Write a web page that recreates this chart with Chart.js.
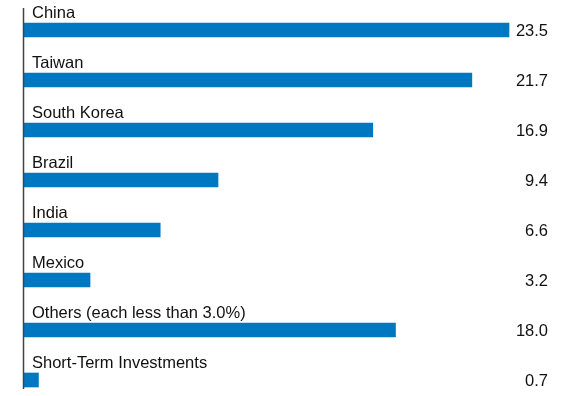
<!DOCTYPE html>
<html>
<head>
<meta charset="utf-8">
<script src="https://cdn.jsdelivr.net/npm/chart.js@4/dist/chart.umd.min.js"></script>
<style>
  html, body { margin: 0; padding: 0; background: #fff; }
  #wrap { width: 573px; height: 396px; position: relative; }
</style>
</head>
<body>
<div id="wrap"><canvas id="countryChart"></canvas></div>
<script>
// values (percent of net assets)
const countries = ['China', 'Taiwan', 'South Korea', 'Brazil', 'India', 'Mexico',
  'Others (each less than 3.0%)', 'Short-Term Investments'];
const weights = [23.5, 21.7, 16.9, 9.4, 6.6, 3.2, 18.0, 0.7];

const barColor = '#0078c1';
const textFont = '16.5px "Liberation Sans", Arial, sans-serif';

// draws the category name above each bar and the value at the right edge
const labelPlugin = {
  id: 'rowLabels',
  afterDatasetsDraw(chart) {
    const ctx = chart.ctx;
    const meta = chart.getDatasetMeta(0);
    const area = chart.chartArea;
    ctx.save();
    ctx.font = textFont;
    ctx.fillStyle = '#111';
    meta.data.forEach((bar, i) => {
      ctx.textAlign = 'left';
      ctx.textBaseline = 'alphabetic';
      ctx.fillText(countries[i], area.left + 8, bar.y - 12);
      ctx.textAlign = 'right';
      ctx.textBaseline = 'middle';
      ctx.fillText(weights[i].toFixed(1), 548, bar.y + 1);
    });
    // vertical axis line
    ctx.strokeStyle = '#444';
    ctx.lineWidth = 1.5;
    ctx.beginPath();
    ctx.moveTo(area.left - 0.5, 8);
    ctx.lineTo(area.left - 0.5, 389);
    ctx.stroke();
    ctx.restore();
  }
};

new Chart(document.getElementById('countryChart'), {
  type: 'bar',
  data: {
    labels: countries,
    datasets: [{
      data: weights,
      backgroundColor: barColor,
      barThickness: 14,
      borderWidth: 0,
      clip: false
    }]
  },
  options: {
    indexAxis: 'y',
    responsive: true,
    maintainAspectRatio: false,
    animation: false,
    layout: { padding: { left: 24, right: 64, top: 30, bottom: 16 } },
    scales: {
      x: { display: false, min: 0, max: 23.5, grid: { display: false } },
      y: { display: false, offset: false, grid: { display: false } }
    },
    plugins: {
      legend: { display: false },
      tooltip: { enabled: false }
    }
  },
  plugins: [labelPlugin]
});
</script>
</body>
</html>
